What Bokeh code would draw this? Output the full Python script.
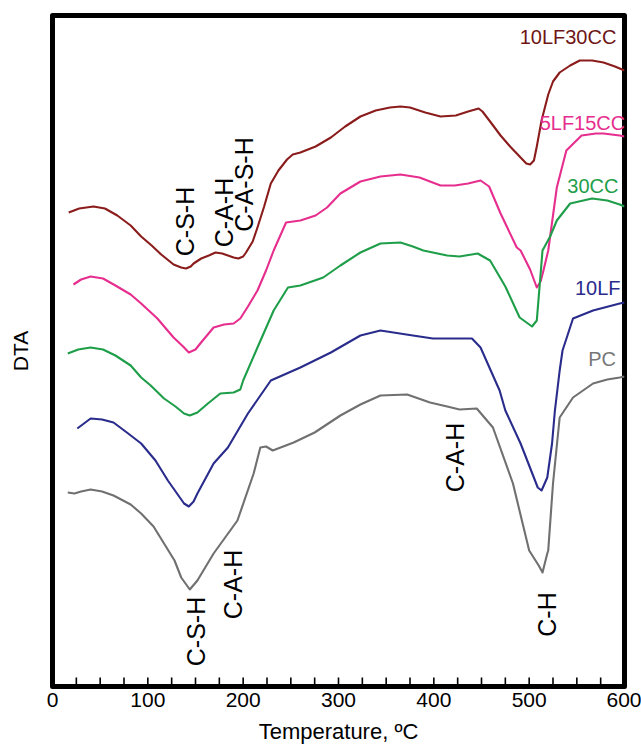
from bokeh.plotting import figure
from bokeh.models import Range1d, FixedTicker, SingleIntervalTicker
from bokeh.core.properties import value
from bokeh.embed import file_html
from bokeh.resources import INLINE
import numpy as np

FONT = "Liberation Sans"

# ---- data (temperature in degC, DTA in arbitrary units, curves offset) ----
t_10lf30cc = [17, 28, 43, 55, 68, 82, 93, 104, 114, 127, 135, 140, 145, 148, 156, 164, 171, 178, 184, 190, 195,
              200, 203, 210, 215, 222, 229, 237, 246, 252, 260, 276, 292, 307, 323, 339, 354, 365, 375, 391, 407,
              423, 436, 447, 451, 459, 470, 480, 489, 497, 501, 505, 508, 513, 520, 525, 532, 543, 553, 566, 578,
              590, 600]
d_10lf30cc = [474, 478, 480, 478, 471, 461, 450, 441, 432, 422, 419, 418, 420, 423, 428, 431, 434, 433, 431, 429, 428,
              430, 434, 445, 459, 480, 503, 516, 527, 532, 534, 540, 549, 560, 570, 576, 579, 580, 579, 574, 570,
              571, 575, 578, 575, 565, 551, 540, 531, 523, 522, 526, 540, 566, 592, 605, 614, 621, 626, 626, 624,
              620, 616]

t_5lf15cc = [22, 30, 40, 53, 66, 82, 93, 110, 127, 137, 143, 150, 155, 169, 180, 190, 197, 205, 215, 224, 232,
             245, 260, 276, 288, 302, 323, 344, 365, 385, 407, 422, 436, 449, 458, 470, 487, 491, 501, 508, 512,
             515, 520, 529, 539, 555, 570, 578, 595, 600]
d_5lf15cc = [402, 407, 410, 408, 401, 392, 383, 368, 349, 340, 334, 337, 343, 359, 362, 363, 368, 380, 396, 416, 436,
             464, 466, 471, 479, 493, 505, 510, 512, 509, 501, 501, 503, 506, 500, 473, 439, 436, 417, 399, 405,
             416, 436, 499, 536, 551, 553, 553, 551, 550]

t_30cc = [16, 27, 40, 53, 66, 82, 93, 103, 117, 129, 138, 144, 152, 163, 176, 190, 197, 200, 215, 232, 247,
          260, 284, 302, 323, 344, 365, 378, 389, 414, 427, 446, 459, 475, 490, 503, 508, 514, 522, 529, 543,
          566, 582, 595, 600]
d_30cc = [333, 337, 339, 337, 331, 321, 309, 301, 288, 280, 273, 271, 274, 283, 293, 294, 297, 306, 339, 376, 399,
          401, 409, 421, 434, 443, 444, 440, 436, 431, 430, 433, 426, 400, 369, 360, 366, 436, 450, 466, 483,
          488, 486, 482, 480]

t_10lf = [26, 40, 52, 64, 78, 93, 108, 121, 138, 143, 148, 152, 169, 184, 205, 229, 260, 292, 323, 344, 378,
          399, 440, 449, 469, 475, 491, 509, 513, 519, 524, 527, 532, 535, 546, 567, 595, 600]
d_10lf = [258, 268, 267, 264, 254, 243, 226, 206, 183, 180, 185, 193, 223, 239, 273, 306, 319, 334, 351, 356, 351,
          348, 348, 339, 296, 276, 243, 199, 196, 209, 243, 276, 316, 336, 368, 376, 383, 384]

t_pc = [16, 23, 30, 40, 52, 64, 82, 93, 106, 117, 128, 135, 144, 152, 169, 194, 211, 218, 224, 231, 253,
        275, 302, 323, 344, 372, 396, 414, 427, 445, 462, 483, 500, 510, 514, 519, 520, 525, 532, 546, 567,
        582, 595, 600]
d_pc = [194, 193, 195, 197, 195, 191, 182, 173, 160, 143, 126, 109, 97, 106, 133, 166, 213, 239, 240, 236, 244,
        254, 271, 282, 291, 292, 284, 280, 277, 278, 259, 203, 136, 121, 114, 133, 136, 203, 269, 289, 303,
        307, 309, 310]

series_names = ["10LF30CC", "5LF15CC", "30CC", "10LF", "PC"]
series_t = [t_10lf30cc, t_5lf15cc, t_30cc, t_10lf, t_pc]
series_d = [d_10lf30cc, d_5lf15cc, d_30cc, d_10lf, d_pc]
line_colors = ["#8B1C1C", "#E62E8E", "#1F9E4A", "#2A2C8C", "#707070"]
label_colors = ["#6E1616", "#E62E8E", "#1F9E4A", "#2A2C8C", "#777777"]
label_t = [490, 511, 540, 548, 562]
label_d = [650, 564, 501, 399, 328]

peak_text = ["C-S-H", "C-A-H", "C-A-S-H", "C-S-H", "C-A-H", "C-A-H", "C-H"]
peak_t = [139, 180, 201, 151, 189, 422, 519]
peak_d = [465, 474, 502, 55, 102, 229, 72]

x_tick_labels_every = 100
x_tick_marks = list(range(0, 601, 25))

p = figure(width=641, height=747, output_backend="svg", toolbar_location=None,
           x_range=Range1d(0, 600), y_range=Range1d(0, 671),
           min_border_left=52, min_border_right=17, min_border_top=15, min_border_bottom=61)
p.background_fill_color = "white"
p.border_fill_color = "white"
p.outline_line_color = "black"
p.outline_line_width = 5
p.outline_line_join = "round"
p.xgrid.visible = False
p.ygrid.visible = False

# inward tick marks along the bottom edge (every 25 degC)
p.segment(x0=x_tick_marks, y0=[0] * len(x_tick_marks), x1=x_tick_marks, y1=[9] * len(x_tick_marks),
          line_color="black", line_width=1.6)

for t, d, c in zip(series_t, series_d, line_colors):
    p.line(t, d, line_color=c, line_width=2.1, line_join="round")

for name, t, d, c in zip(series_names, label_t, label_d, label_colors):
    p.text([t], [d], text=[name], text_color=c, text_font=value(FONT), text_font_size="20px",
           text_align="left", text_baseline="middle")

p.text(peak_t, peak_d, text=peak_text, angle=np.pi / 2, text_color="black", text_font=value(FONT),
       text_font_size="25px", text_align="center", text_baseline="middle")

xa = p.xaxis[0]
xa.ticker = SingleIntervalTicker(interval=x_tick_labels_every, num_minor_ticks=0)
xa.axis_line_color = None
xa.major_tick_in = 0
xa.major_tick_out = 0
xa.minor_tick_in = 0
xa.minor_tick_out = 0
xa.major_tick_line_color = None
xa.minor_tick_line_color = None
xa.major_label_text_font = FONT
xa.major_label_text_font_size = "21px"
xa.major_label_text_color = "black"
xa.major_label_standoff = 6
xa.axis_label = "Temperature, ºC"
xa.axis_label_text_font = FONT
xa.axis_label_text_font_size = "22px"
xa.axis_label_text_font_style = "normal"
xa.axis_label_text_color = "black"
xa.axis_label_standoff = 9

ya = p.yaxis[0]
ya.ticker = FixedTicker(ticks=[])
ya.axis_line_color = None
ya.major_tick_in = 0
ya.major_tick_out = 0
ya.minor_tick_in = 0
ya.minor_tick_out = 0
ya.major_label_text_font_size = "0px"
ya.axis_label = "DTA"
ya.axis_label_text_font = FONT
ya.axis_label_text_font_size = "21px"
ya.axis_label_text_font_style = "normal"
ya.axis_label_text_color = "black"
ya.axis_label_standoff = 21

open("out.html", "w").write(file_html(p, INLINE))
